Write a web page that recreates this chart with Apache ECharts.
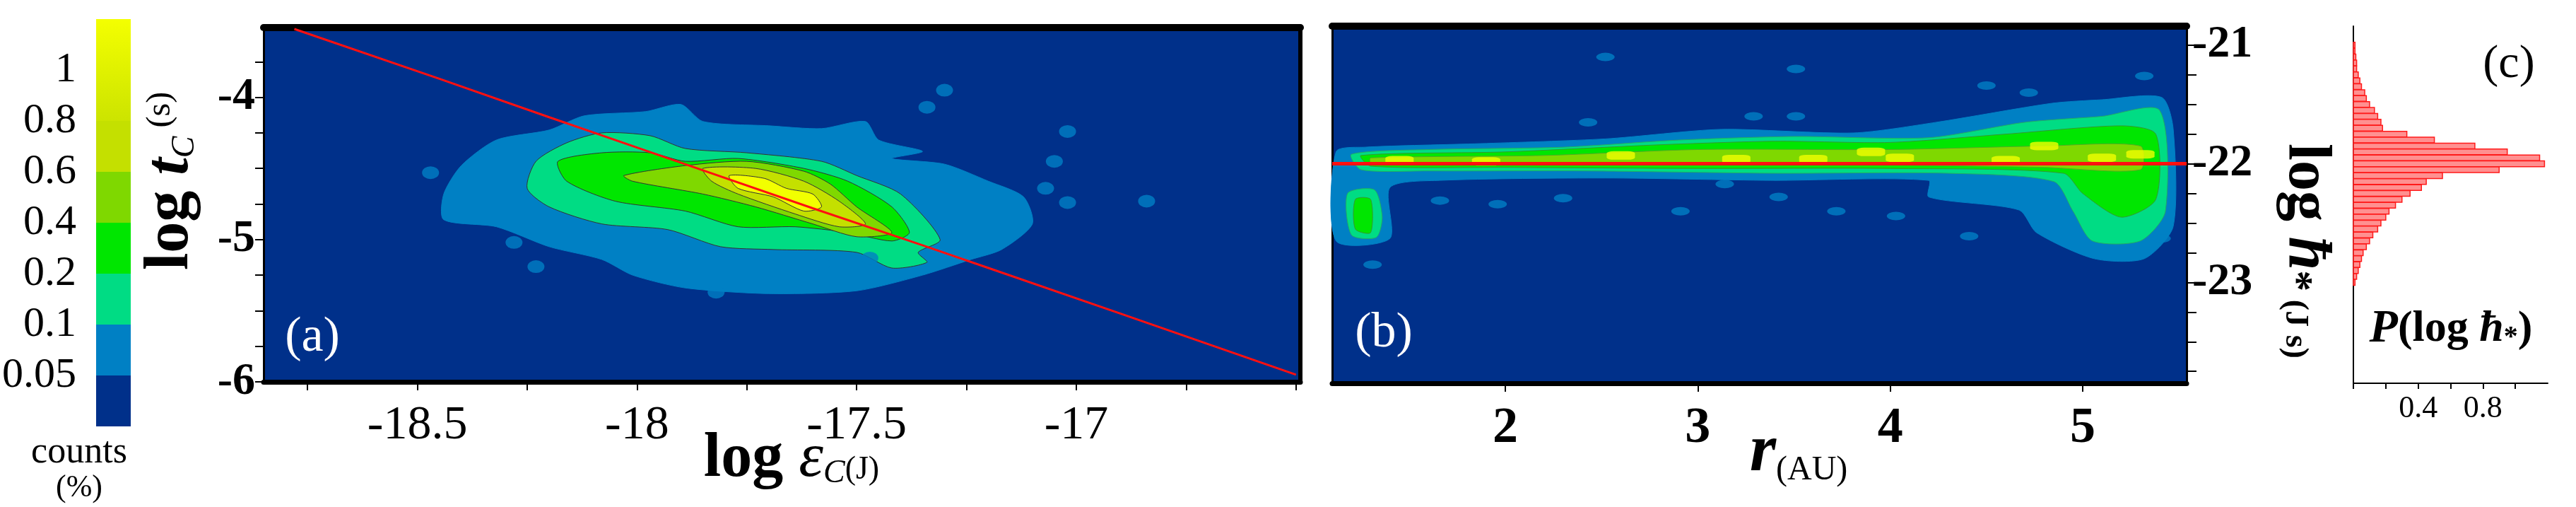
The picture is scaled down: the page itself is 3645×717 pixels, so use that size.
<!DOCTYPE html>
<html>
<head>
<meta charset="utf-8">
<script src="https://cdn.jsdelivr.net/npm/echarts@6/dist/echarts.min.js"></script>
<style>html,body{margin:0;background:#fff}#main{width:3645px;height:717px}</style>
</head>
<body>
<div id="main"></div>
<script>
// contour level colours, low -> high
var levelColors = ['#00308a', '#0080c4', '#00dc84', '#00e600', '#7fd800', '#c4e000', '#f2ff00'];
var cbHeights = [1, 1, 1, 1, 1, 1, 2];
var cbTicks = ['', '0.05', '0.1', '0.2', '0.4', '0.6', '0.8', '1', ''];

// tick positions
var aXTicks = [-18.75, -18.5, -18.25, -18, -17.75, -17.5, -17.25, -17, -16.75, -16.5];
var aXLabels = [-18.5, -18, -17.5, -17];
var aYTicks = [-6, -5.75, -5.5, -5.25, -5, -4.75, -4.5, -4.25, -4, -3.75];
var aYLabels = [-6, -5, -4];
var bXTicks = [2, 3, 4, 5];
var bYTicks = [-23.75, -23.5, -23.25, -23, -22.75, -22.5, -22.25, -22, -21.75, -21.5, -21.25, -21];
var bYLabels = [-23, -22, -21];
var cXTicks = [0, 0.2, 0.4, 0.6, 0.8, 1.0];
var cXLabels = [0.4, 0.8];

// panel (a): contour outlines in (log eps, log t)
var aBlue = [[[-18.44,-4.68],[-18.40,-4.48],[-18.32,-4.30],[-18.20,-4.23],[-18.12,-4.13],[-17.98,-4.10],[-17.90,-4.05],[-17.85,-4.17],[-17.70,-4.20],[-17.58,-4.22],[-17.48,-4.17],[-17.45,-4.30],[-17.35,-4.38],[-17.42,-4.43],[-17.30,-4.47],[-17.20,-4.59],[-17.12,-4.70],[-17.10,-4.89],[-17.17,-5.07],[-17.24,-5.14],[-17.35,-5.25],[-17.50,-5.36],[-17.70,-5.38],[-17.89,-5.34],[-18.01,-5.25],[-18.08,-5.14],[-18.20,-5.05],[-18.32,-4.91],[-18.44,-4.86]]];
var aTeal = [[[-18.25,-4.64],[-18.23,-4.45],[-18.16,-4.32],[-18.08,-4.25],[-17.97,-4.27],[-17.89,-4.36],[-17.75,-4.39],[-17.58,-4.45],[-17.50,-4.55],[-17.40,-4.68],[-17.31,-5.00],[-17.36,-5.09],[-17.34,-5.16],[-17.42,-5.20],[-17.50,-5.09],[-17.69,-5.07],[-17.81,-5.05],[-17.93,-4.93],[-18.08,-4.89],[-18.20,-4.77]]];
var aGreen = [[[-18.18,-4.45],[-18.08,-4.39],[-17.97,-4.39],[-17.89,-4.45],[-17.77,-4.43],[-17.62,-4.50],[-17.52,-4.59],[-17.42,-4.77],[-17.38,-4.95],[-17.42,-5.01],[-17.52,-4.95],[-17.64,-4.91],[-17.77,-4.91],[-17.89,-4.80],[-18.05,-4.73],[-18.16,-4.59]]];
var aLime = [[[-18.03,-4.55],[-17.89,-4.48],[-17.75,-4.45],[-17.62,-4.52],[-17.56,-4.61],[-17.50,-4.77],[-17.42,-4.95],[-17.50,-4.98],[-17.60,-4.89],[-17.73,-4.77],[-17.85,-4.68],[-18.01,-4.59]]];
var aOlive = [[[-17.85,-4.50],[-17.73,-4.50],[-17.62,-4.59],[-17.54,-4.73],[-17.48,-4.89],[-17.54,-4.91],[-17.64,-4.82],[-17.77,-4.68],[-17.83,-4.59]]];
var aYellow = [[[-17.79,-4.55],[-17.71,-4.57],[-17.66,-4.64],[-17.60,-4.68],[-17.58,-4.77],[-17.62,-4.80],[-17.69,-4.70],[-17.77,-4.64]]];
var aIslands = [[-17.30,-3.95],[-17.02,-4.24],[-17.05,-4.45],[-16.84,-4.73],[-17.07,-4.64],[-17.02,-4.74],[-18.28,-5.02],[-18.23,-5.19],[-17.82,-5.37],[-18.47,-4.53],[-17.34,-4.07],[-17.47,-5.13],[-17.58,-5.17]];
var aFit = [[-18.78,-3.52],[-18.45,-3.87],[-18.2,-4.14],[-17.9,-4.46],[-17.6,-4.78],[-17.35,-5.04],[-17.2,-5.2],[-16.9,-5.52],[-16.5,-5.95]];

// panel (b): contour outlines in (r, log h)
var bBlue = [[[1.12,-22.65],[1.12,-21.90],[1.27,-21.86],[1.87,-21.83],[2.52,-21.79],[3.12,-21.71],[3.81,-21.74],[4.24,-21.65],[4.84,-21.49],[5.10,-21.46],[5.41,-21.44],[5.47,-21.70],[5.47,-22.53],[5.32,-22.80],[5.06,-22.80],[4.76,-22.58],[4.67,-22.39],[4.20,-22.28],[4.20,-22.14],[3.38,-22.14],[2.52,-22.12],[1.66,-22.14],[1.40,-22.20],[1.40,-22.63]]];
var bTeal = [[[1.20,-21.92],[1.60,-21.88],[2.30,-21.86],[2.90,-21.80],[3.50,-21.77],[4.20,-21.78],[4.70,-21.65],[5.10,-21.60],[5.40,-21.55],[5.43,-22.40],[5.30,-22.65],[5.05,-22.65],[4.95,-22.40],[4.85,-22.15],[4.30,-22.08],[3.40,-22.08],[2.40,-22.06],[1.60,-22.06],[1.25,-22.05]],
  [[1.18,-22.25],[1.32,-22.22],[1.36,-22.45],[1.33,-22.62],[1.20,-22.60]]];
var bGreen = [[[1.25,-21.93],[2.00,-21.90],[2.80,-21.84],[3.40,-21.81],[4.00,-21.82],[4.60,-21.75],[5.20,-21.68],[5.38,-21.75],[5.38,-22.30],[5.20,-22.45],[5.00,-22.25],[4.90,-22.08],[4.00,-22.04],[3.00,-22.04],[2.00,-22.03],[1.30,-22.02]],
  [[1.22,-22.30],[1.30,-22.30],[1.30,-22.58],[1.22,-22.55]]];
var bLime = [[[1.30,-21.95],[2.20,-21.93],[3.00,-21.88],[4.00,-21.88],[4.80,-21.85],[5.30,-21.85],[5.30,-22.05],[4.80,-22.03],[4.00,-22.01],[3.00,-22.00],[2.00,-21.99],[1.30,-21.99]]];
var bYellow = [[1.45,-21.97],[1.90,-21.98],[2.60,-21.93],[3.20,-21.96],[3.60,-21.96],[4.05,-21.95],[4.60,-21.97],[5.10,-21.95],[5.30,-21.92],[4.80,-21.85],[3.90,-21.90]];
var bIslands = [[2.52,-21.10],[3.51,-21.20],[4.50,-21.34],[4.72,-21.40],[5.32,-21.26],[3.29,-21.60],[3.51,-21.60],[2.43,-21.65],[1.66,-22.31],[1.96,-22.34],[2.30,-22.29],[2.91,-22.40],[3.42,-22.28],[3.72,-22.40],[4.03,-22.44],[4.41,-22.61],[1.31,-22.85],[3.14,-22.17],[5.41,-22.63]];
var bFit = [[1.1,-22], [5.54,-22]];

// panel (c): histogram of log h
var histY = [-21.0,-21.05,-21.1,-21.15,-21.2,-21.25,-21.3,-21.35,-21.4,-21.45,-21.5,-21.55,-21.6,-21.65,-21.7,-21.75,-21.8,-21.85,-21.9,-21.95,-22.0,-22.05,-22.1,-22.15,-22.2,-22.25,-22.3,-22.35,-22.4,-22.45,-22.5,-22.55,-22.6,-22.65,-22.7,-22.75,-22.8,-22.85,-22.9,-22.95,-23.0];
var histP = [0.01,0.01,0.015,0.02,0.02,0.03,0.04,0.05,0.07,0.08,0.1,0.13,0.15,0.17,0.18,0.33,0.5,0.75,0.95,1.15,1.18,0.9,0.55,0.45,0.42,0.35,0.3,0.26,0.22,0.2,0.17,0.15,0.12,0.1,0.08,0.06,0.05,0.04,0.03,0.02,0.01];

var serif = 'Liberation Serif';

function polySeries(xi, yi, polys, color, stroke) {
    return {
        type: 'custom', xAxisIndex: xi, yAxisIndex: yi, silent: true,
        data: polys.map(function (p) { return p[0]; }),
        renderItem: function (params, api) {
            var pts = polys[params.dataIndex].map(function (p) { return api.coord(p); });
            return {type: 'polygon', shape: {points: pts, smooth: 0.25},
                style: {fill: color, stroke: stroke, lineWidth: 1}};
        }
    };
}

function islands(xi, yi, pts, color, size, sym) {
    return {type: 'scatter', xAxisIndex: xi, yAxisIndex: yi, silent: true, symbol: sym || 'circle',
        symbolSize: size, itemStyle: {color: color}, data: pts};
}

var tickStyle = function (len, vals) { return {show: true, inside: false, length: len, customValues: vals, lineStyle: {color: '#000', width: 2}}; };
var blackLine = function (w) { return {show: true, onZero: false, lineStyle: {color: '#000', width: w}}; };
var fmt = function (v) { return String(v); };

var cbSeries = cbHeights.map(function (h, i) {
    var col = levelColors[i];
    if (i === cbHeights.length - 1) {
        col = new echarts.graphic.LinearGradient(0, 0, 0, 1, [{offset: 0, color: '#f4ff00'}, {offset: 1, color: '#cce400'}]);
    }
    return {type: 'bar', stack: 'cb', xAxisIndex: 5, yAxisIndex: 5, barWidth: '100%', silent: true,
        itemStyle: {color: col}, data: [h]};
});

var option = {
    animation: false,
    backgroundColor: '#fff',
    grid: [
        {left: 373, top: 39, width: 1467, height: 501, show: true, backgroundColor: levelColors[0], borderWidth: 0},
        {left: 1885, top: 37, width: 1209, height: 505, show: true, backgroundColor: levelColors[0], borderWidth: 0},
        {left: 3330, top: 37, width: 275, height: 505},
        {left: 125, top: 27, width: 60, height: 576}
    ],
    xAxis: [
        {gridIndex: 0, type: 'value', min: -18.85, max: -16.49, position: 'bottom',
         axisLine: blackLine(7), axisTick: tickStyle(12, aXTicks), splitLine: {show: false},
         axisLabel: {margin: 28, fontFamily: serif, fontSize: 68, color: '#000', customValues: aXLabels, formatter: fmt}},
        {gridIndex: 0, type: 'value', min: -18.85, max: -16.49, position: 'top',
         axisLine: blackLine(10), axisTick: {show: false}, axisLabel: {show: false}, splitLine: {show: false}},
        {gridIndex: 1, type: 'value', min: 1.1, max: 5.54, position: 'bottom',
         axisLine: blackLine(7), axisTick: tickStyle(12, bXTicks), splitLine: {show: false},
         axisLabel: {margin: 28, fontFamily: serif, fontWeight: 'bold', fontSize: 72, color: '#000', customValues: bXTicks, formatter: fmt}},
        {gridIndex: 1, type: 'value', min: 1.1, max: 5.54, position: 'top',
         axisLine: blackLine(10), axisTick: {show: false}, axisLabel: {show: false}, splitLine: {show: false}},
        {gridIndex: 2, type: 'value', min: 0, max: 1.2, position: 'bottom',
         axisLine: blackLine(2), axisTick: tickStyle(8, cXTicks), splitLine: {show: false},
         axisLabel: {margin: 14, fontFamily: serif, fontSize: 44, color: '#000', customValues: cXLabels,
            formatter: function (v) { return v.toFixed(1); }}},
        {gridIndex: 3, type: 'category', data: ['c'], show: false}
    ],
    yAxis: [
        {gridIndex: 0, type: 'value', min: -6, max: -3.51, position: 'left',
         axisLine: blackLine(3), axisTick: tickStyle(12, aYTicks), splitLine: {show: false},
         axisLabel: {margin: 12, fontFamily: serif, fontWeight: 'bold', fontSize: 64, color: '#000', customValues: aYLabels, formatter: fmt}},
        {gridIndex: 0, type: 'value', min: -6, max: -3.51, position: 'right',
         axisLine: blackLine(6), axisTick: {show: false}, axisLabel: {show: false}, splitLine: {show: false}},
        {gridIndex: 1, type: 'value', min: -23.85, max: -20.84, position: 'right',
         axisLine: blackLine(3), axisTick: tickStyle(14, bYTicks), splitLine: {show: false},
         axisLabel: {margin: 8, fontFamily: serif, fontWeight: 'bold', fontSize: 64, color: '#000', customValues: bYLabels, formatter: fmt}},
        {gridIndex: 1, type: 'value', min: -23.85, max: -20.84, position: 'left',
         axisLine: blackLine(3), axisTick: {show: false}, axisLabel: {show: false}, splitLine: {show: false}},
        {gridIndex: 2, type: 'value', min: -23.85, max: -20.84, position: 'left',
         axisLine: blackLine(2), axisTick: {show: false}, axisLabel: {show: false}, splitLine: {show: false}},
        {gridIndex: 3, type: 'value', min: 0, max: 8, interval: 1, position: 'left',
         axisLine: {show: false}, axisTick: {show: false}, splitLine: {show: false},
         axisLabel: {margin: 28, fontFamily: serif, fontSize: 60, color: '#000',
            formatter: function (v) { return cbTicks[v] || ''; }}}
    ],
    series: [
        islands(0, 0, aIslands, levelColors[1], [24, 18]),
        polySeries(0, 0, aBlue, levelColors[1], levelColors[1]),
        polySeries(0, 0, aTeal, levelColors[2], '#333'),
        polySeries(0, 0, aGreen, levelColors[3], '#333'),
        polySeries(0, 0, aLime, levelColors[4], '#333'),
        polySeries(0, 0, aOlive, levelColors[5], '#333'),
        polySeries(0, 0, aYellow, levelColors[6], '#333'),
        {type: 'line', xAxisIndex: 0, yAxisIndex: 0, data: aFit, symbol: 'none', silent: true,
         lineStyle: {color: '#ff1010', width: 3}},
        islands(2, 2, bIslands, levelColors[1], [26, 12]),
        polySeries(2, 2, bBlue, levelColors[1], levelColors[1]),
        polySeries(2, 2, bTeal, levelColors[2], '#2a6'),
        polySeries(2, 2, bGreen, levelColors[3], '#393'),
        polySeries(2, 2, bLime, levelColors[4], '#5a2'),
        islands(2, 2, bYellow, levelColors[6], [40, 12], 'roundRect'),
        {type: 'line', xAxisIndex: 2, yAxisIndex: 2, data: bFit, symbol: 'none', silent: true,
         lineStyle: {color: '#ff1010', width: 5}},
        {type: 'custom', xAxisIndex: 4, yAxisIndex: 4, silent: true,
         data: histY.map(function (y, i) { return [histP[i], y]; }),
         renderItem: function (params, api) {
             var p0 = api.coord([0, api.value(1) + 0.024]);
             var p1 = api.coord([api.value(0), api.value(1) - 0.024]);
             return {type: 'rect', shape: {x: p0[0], y: p0[1], width: p1[0] - p0[0], height: p1[1] - p0[1]},
                 style: {fill: '#ff9090', stroke: '#ff1a1a', lineWidth: 1.5}};
         }}
    ].concat(cbSeries),
    graphic: [
        {type: 'text', x: 242, y: 256, rotation: Math.PI / 2, style: {
            text: '{l|log }{t|t}{s|C}{u| (s)}', align: 'center', verticalAlign: 'middle',
            rich: {l: {fontFamily: serif, fontWeight: 'bold', fontSize: 88},
                   t: {fontFamily: serif, fontWeight: 'bold', fontStyle: 'italic', fontSize: 88},
                   s: {fontFamily: serif, fontStyle: 'italic', fontSize: 46, padding: [40, 0, 0, 0]},
                   u: {fontFamily: serif, fontSize: 48, padding: [0, 0, 30, 0]}}}},
        {type: 'text', x: 1120, y: 650, style: {
            text: '{l|log }{e|ε}{s|C}{u|(J)}', align: 'center', verticalAlign: 'middle',
            rich: {l: {fontFamily: serif, fontWeight: 'bold', fontSize: 88},
                   e: {fontFamily: serif, fontStyle: 'italic', fontSize: 88},
                   s: {fontFamily: serif, fontStyle: 'italic', fontSize: 46, padding: [40, 0, 0, 0]},
                   u: {fontFamily: serif, fontSize: 46, padding: [30, 0, 0, 0]}}}},
        {type: 'text', x: 2545, y: 640, style: {
            text: '{r|r}{u|(AU)}', align: 'center', verticalAlign: 'middle',
            rich: {r: {fontFamily: serif, fontWeight: 'bold', fontStyle: 'italic', fontSize: 96},
                   u: {fontFamily: serif, fontSize: 48, padding: [50, 0, 0, 0]}}}},
        {type: 'text', x: 3262, y: 355, rotation: -Math.PI / 2, style: {
            text: '{l|log }{h|ħ}{s|*}{u| (J s)}', align: 'center', verticalAlign: 'middle',
            rich: {l: {fontFamily: serif, fontWeight: 'bold', fontSize: 86},
                   h: {fontFamily: serif, fontWeight: 'bold', fontStyle: 'italic', fontSize: 86},
                   s: {fontFamily: serif, fontWeight: 'bold', fontSize: 60, padding: [30, 0, 0, 0]},
                   u: {fontFamily: serif, fontWeight: 'bold', fontSize: 46, padding: [30, 0, 0, 0]}}}},
        {type: 'text', x: 3468, y: 466, style: {
            text: '{p|P}{n|(log }{h|ħ}{s|*}{n|)}', align: 'center', verticalAlign: 'middle',
            rich: {p: {fontFamily: serif, fontWeight: 'bold', fontStyle: 'italic', fontSize: 66},
                   n: {fontFamily: serif, fontWeight: 'bold', fontSize: 62},
                   h: {fontFamily: serif, fontWeight: 'bold', fontStyle: 'italic', fontSize: 62},
                   s: {fontFamily: serif, fontWeight: 'bold', fontSize: 40, padding: [24, 0, 0, 0]}}}},
        {type: 'text', x: 442, y: 478, style: {text: '(a)', fill: '#fff', font: '70px "Liberation Serif"', align: 'center', verticalAlign: 'middle'}},
        {type: 'text', x: 1958, y: 472, style: {text: '(b)', fill: '#fff', font: '70px "Liberation Serif"', align: 'center', verticalAlign: 'middle'}},
        {type: 'text', x: 3550, y: 92, style: {text: '(c)', fill: '#000', font: '66px "Liberation Serif"', align: 'center', verticalAlign: 'middle'}},
        {type: 'text', x: 112, y: 640, style: {text: 'counts', fill: '#000', font: '52px "Liberation Serif"', align: 'center', verticalAlign: 'middle'}},
        {type: 'text', x: 112, y: 690, style: {text: '(%)', fill: '#000', font: '44px "Liberation Serif"', align: 'center', verticalAlign: 'middle'}}
    ]
};

var myChart = echarts.init(document.getElementById('main'));
myChart.setOption(option);
</script>
</body>
</html>
